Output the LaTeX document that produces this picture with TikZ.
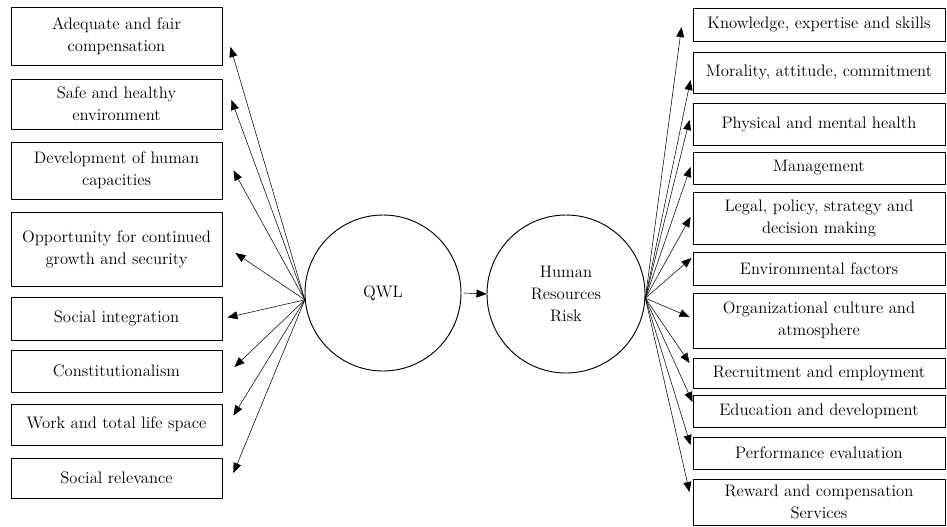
\documentclass[tikz,border=0pt]{standalone}
\usepackage{tikz}
\tikzset{>=latex}
\usetikzlibrary{shapes,arrows.meta}
\tikzset{
	factor/.style={draw, line width=0.7pt, align=center, inner sep=0pt, font=\fontsize{12.5}{16.5}\selectfont},
	lbox/.style={factor, minimum width=158.25pt},
	rbox/.style={factor, minimum width=189pt},
	bubble/.style={draw, circle, line width=0.7pt, align=center, inner sep=0pt, font=\fontsize{12.5}{16.5}\selectfont},
}

\begin{document}
\begin{tikzpicture}[line cap=round,line join=round,>={Triangle[length=7.5pt,width=6pt]},x=0.75pt,y=-0.75pt]
			\useasboundingbox (0,0) rectangle (947,526);
			% the two circles
			\node[bubble, minimum size=117pt] (qwl) at (383,293) {QWL};
			\node[bubble, minimum size=118.5pt] (hrr) at (566,294) {Human\\Resources\\Risk};
			% QWL dimensions
			\node[lbox, minimum height=43.5pt] (adequate) at (116.5,36) {Adequate and fair\\compensation};
			\node[lbox, minimum height=37.5pt] (safe) at (116.5,104) {Safe and healthy\\environment};
			\node[lbox, minimum height=42.75pt] (capac) at (116.5,170.5) {Development of human\\capacities};
			\node[lbox, minimum height=55.5pt] (growth) at (116.5,249) {Opportunity for continued\\growth and security};
			\node[lbox, minimum height=32.25pt] (integ) at (116.5,318.5) {Social integration};
			\node[lbox, minimum height=31.5pt] (const) at (116.5,371) {Constitutionalism};
			\node[lbox, minimum height=30.75pt] (space) at (116.5,424.5) {Work and total life space};
			\node[lbox, minimum height=30pt] (relev) at (116.5,478) {Social relevance};
			% risk factors
			\node[rbox, minimum height=24.75pt] (know) at (819,24.5) {Knowledge, expertise and skills};
			\node[rbox, minimum height=30.75pt] (moral) at (819,72.5) {Morality, attitude, commitment};
			\node[rbox, minimum height=31.5pt] (health) at (819,124) {Physical and mental health};
			\node[rbox, minimum height=24pt] (manag) at (819,168) {Management};
			\node[rbox, minimum height=39pt] (legal) at (819,218) {Legal, policy, strategy and\\decision making};
			\node[rbox, minimum height=24.75pt] (envir) at (819,268.5) {Environmental factors};
			\node[rbox, minimum height=41.25pt] (cult) at (819,320.5) {Organizational culture and\\atmosphere};
			\node[rbox, minimum height=22.5pt] (recr) at (819,373) {Recruitment and employment};
			\node[rbox, minimum height=24pt] (educ) at (819,411) {Education and development};
			\node[rbox, minimum height=24pt] (perf) at (819,453) {Performance evaluation};
			\node[rbox, minimum height=34.5pt] (reward) at (819,502) {Reward and compensation\\Services};
			% arrows out of QWL
			\draw[->] (qwl.185) -- ([shift={(8,11)}]adequate.east);
			\draw[->] (qwl.185) -- ([shift={(9,-4)}]safe.east);
			\draw[->] (qwl.185) -- ([shift={(11,0)}]capac.east);
			\draw[->] (qwl.185) -- ([shift={(13,4)}]growth.east);
			\draw[->] (qwl.185) -- ([shift={(5,-1)}]integ.east);
			\draw[->] (qwl.185) -- ([shift={(12,-4)}]const.east);
			\draw[->] (qwl.185) -- ([shift={(11,-9)}]space.east);
			\draw[->] (qwl.185) -- ([shift={(11,-5)}]relev.east);
			% QWL to risk
			\draw[->] ([xshift=2]qwl.east) -- (hrr.west);
			% arrows out of the risk circle
			\draw[->] (hrr.-3) -- ([shift={(-11,2.5)}]know.west);
			\draw[->] (hrr.-3) -- ([shift={(-2,7.5)}]moral.west);
			\draw[->] (hrr.-3) -- ([shift={(-3,-4)}]health.west);
			\draw[->] (hrr.-3) -- ([shift={(-2,-1)}]manag.west);
			\draw[->] (hrr.-3) -- ([shift={(-2,-1)}]legal.west);
			\draw[->] (hrr.-3) -- ([shift={(-1,-10.5)}]envir.west);
			\draw[->] (hrr.-3) -- ([shift={(-3,-3.5)}]cult.west);
			\draw[->] (hrr.-3) -- ([shift={(-3,-10)}]recr.west);
			\draw[->] (hrr.-3) -- ([shift={(0,-9)}]educ.west);
			\draw[->] (hrr.-3) -- ([shift={(-2,-8)}]perf.west);
			\draw[->] (hrr.-3) -- ([shift={(-3,-10)}]reward.west);
\end{tikzpicture}
\end{document}
